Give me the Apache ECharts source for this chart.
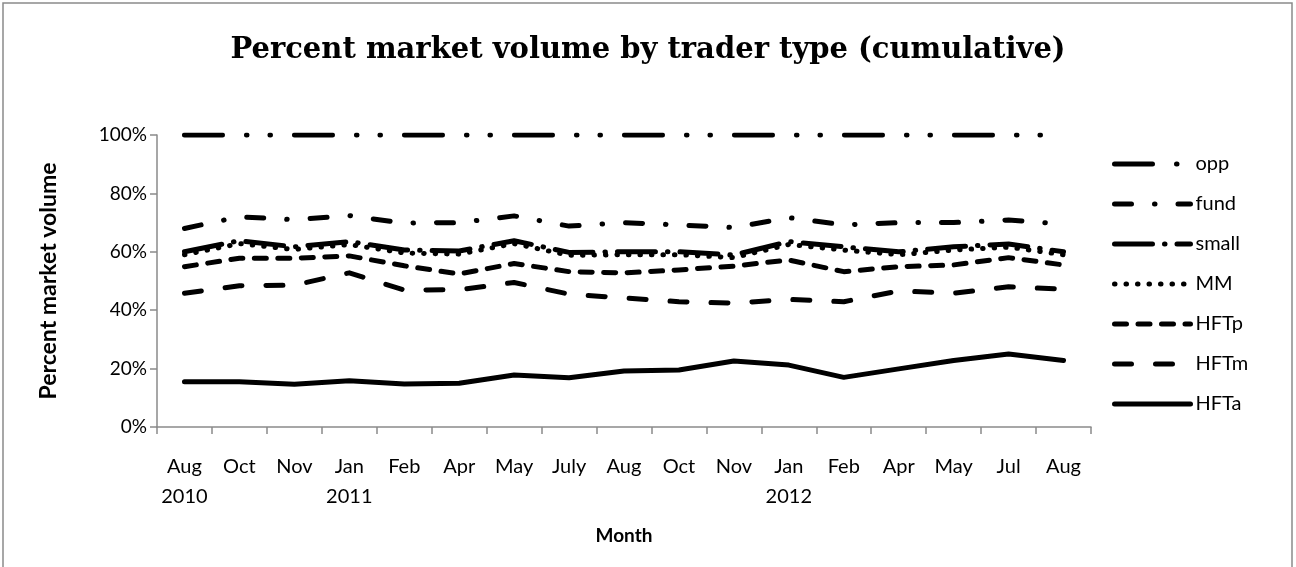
<!DOCTYPE html>
<html>
<head>
<meta charset="utf-8">
<script src="https://cdn.jsdelivr.net/npm/echarts@6/dist/echarts.min.js"></script>
<style>
  html, body { margin: 0; padding: 0; background: #fff; }
  #display { width: 1296px; height: 567px; }
</style>
</head>
<body>
<div id="display"></div>
<script>
// month / year rows of the x axis
var months = ["Aug", "Oct", "Nov", "Jan", "Feb", "Apr", "May", "July", "Aug",
              "Oct", "Nov", "Jan", "Feb", "Apr", "May", "Jul", "Aug"];
var years = ["2010", "", "", "2011", "", "", "", "", "",
             "", "", "2012", "", "", "", "", ""];
var yTicks = [0, 20, 40, 60, 80, 100];

// cumulative percent of market volume
var opp   = [100, 100, 100, 100, 100, 100, 100, 100, 100, 100, 100, 100, 100, 100, 100, 100, 100];
var fund  = [68.0, 72.0, 71.0, 72.4, 69.8, 70.0, 72.3, 68.8, 70.0, 69.2, 68.3, 71.7, 69.2, 70.0, 70.0, 70.9, 69.5];
var small = [60.0, 63.8, 61.7, 63.5, 60.6, 60.3, 63.8, 59.8, 60.0, 60.0, 58.9, 63.5, 61.7, 60.0, 61.7, 62.7, 60.0];
var MM    = [59.0, 62.8, 60.8, 62.5, 59.6, 59.2, 62.8, 58.8, 59.0, 59.0, 58.0, 62.5, 60.6, 59.0, 60.6, 61.6, 59.0];
var HFTp  = [54.9, 57.8, 57.8, 58.6, 55.2, 52.4, 56.0, 53.2, 52.8, 53.8, 55.1, 57.2, 53.2, 54.9, 55.5, 58.0, 55.5];
var HFTm  = [45.8, 48.4, 48.6, 52.8, 46.9, 47.0, 49.5, 45.5, 44.2, 42.9, 42.4, 43.7, 42.9, 46.6, 45.8, 48.0, 47.2];
var HFTa  = [15.5, 15.5, 14.6, 15.8, 14.7, 15.0, 17.8, 16.9, 19.2, 19.5, 22.6, 21.2, 17.0, 19.9, 22.8, 25.0, 22.8];

var categories = months.map(function (m, i) {
    return years[i] ? m + "\n" + years[i] : m;
});

var labelFont = "Lato, 'Liberation Sans', sans-serif";
var axisGrey = "#8a8a8a";

function mkLine(name, data, dash) {
    return {
        name: name,
        type: "line",
        data: data,
        symbol: "none",
        smooth: false,
        lineStyle: {color: "#000", width: 5, type: dash, cap: "round", join: "round"},
        itemStyle: {color: "#000"}
    };
}

var option = {
    animation: false,
    backgroundColor: "#fff",
    title: {
        text: "Percent market volume by trader type (cumulative)",
        left: "center",
        top: 31,
        textStyle: {fontFamily: "'DejaVu Serif', serif", fontWeight: "bold", fontSize: 29, color: "#000"}
    },
    legend: {
        orient: "vertical",
        left: 1107,
        top: 149,
        itemWidth: 76,
        itemHeight: 14,
        itemGap: 20,
        itemStyle: {opacity: 0},
        lineStyle: {width: 5, cap: "round"},
        textStyle: {fontFamily: labelFont, fontSize: 20, color: "#000"},
        data: ["opp", "fund", "small", "MM", "HFTp", "HFTm", "HFTa"]
    },
    grid: {left: 157, right: 205, top: 135, bottom: 140},
    xAxis: {
        type: "category",
        data: categories,
        boundaryGap: true,
        name: "Month",
        nameLocation: "middle",
        nameGap: 99,
        nameTextStyle: {fontFamily: labelFont, fontWeight: "bold", fontSize: 19, color: "#000"},
        axisLine: {lineStyle: {color: axisGrey, width: 1.5}},
        axisTick: {show: true, length: 7, alignWithLabel: false, lineStyle: {color: axisGrey, width: 1.5}},
        axisLabel: {
            interval: 0,
            margin: 25,
            lineHeight: 30,
            fontFamily: labelFont,
            fontSize: 20,
            color: "#000"
        },
        splitLine: {show: false}
    },
    yAxis: {
        type: "value",
        min: yTicks[0],
        max: yTicks[yTicks.length - 1],
        interval: yTicks[1] - yTicks[0],
        name: "Percent market volume",
        nameLocation: "middle",
        nameGap: 97,
        nameTextStyle: {fontFamily: labelFont, fontWeight: "bold", fontSize: 23, color: "#000"},
        axisLine: {show: true, lineStyle: {color: axisGrey, width: 1.5}},
        axisTick: {show: true, length: 7, lineStyle: {color: axisGrey, width: 1.5}},
        axisLabel: {
            margin: 10,
            fontFamily: labelFont,
            fontSize: 19,
            color: "#000",
            formatter: "{value}%"
        },
        splitLine: {show: false}
    },
    graphic: [{
        type: "rect",
        shape: {x: 3, y: 3, width: 1289, height: 620},
        style: {fill: "none", stroke: "#8a8a8a", lineWidth: 1.5},
        silent: true
    }],
    series: [
        mkLine("opp", opp, [38, 24, 0.5, 23, 0.5, 24]),
        mkLine("fund", fund, [17, 23, 0.5, 23]),
        mkLine("small", small, [38, 12, 0.5, 12]),
        mkLine("MM", MM, [0.5, 11]),
        mkLine("HFTp", HFTp, [12, 11.5]),
        mkLine("HFTm", HFTm, [17, 24]),
        mkLine("HFTa", HFTa, "solid")
    ]
};

var myChart = echarts.init(document.getElementById("display"));
myChart.setOption(option);
</script>
</body>
</html>
